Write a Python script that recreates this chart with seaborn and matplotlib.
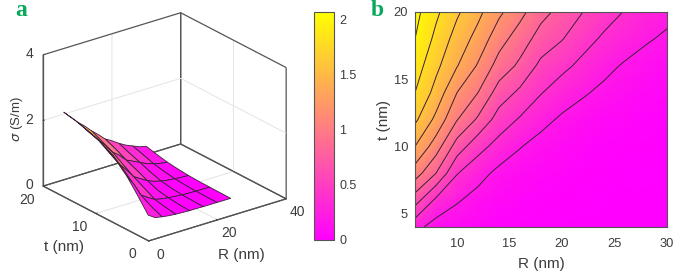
import matplotlib
matplotlib.use("Agg")
import matplotlib.pyplot as plt
from mpl_toolkits.mplot3d import Axes3D  # noqa
import numpy as np
import seaborn as sns

R_nm = [6, 8, 10, 12, 14, 16, 18, 20, 22, 24, 26, 28, 30]
t_nm = [4, 6, 8, 10, 12, 14, 16, 18, 20]
sigma_t04 = [.26, .12, .08, .05, .03, .02, .01, .01, .005, .005, .004, .003, .002]
sigma_t06 = [.69, .36, .22, .13, .08, .05, .03, .02, .015, .01, .008, .006, .005]
sigma_t08 = [1.10, .80, .41, .27, .15, .10, .07, .05, .03, .02, .015, .01, .01]
sigma_t10 = [1.40, 1.10, .71, .47, .33, .21, .13, .09, .06, .04, .03, .02, .015]
sigma_t12 = [1.64, 1.35, 1.01, .77, .51, .38, .26, .17, .12, .08, .06, .04, .03]
sigma_t14 = [1.80, 1.53, 1.20, 1.00, .71, .56, .41, .30, .22, .16, .11, .08, .06]
sigma_t16 = [1.90, 1.65, 1.41, 1.18, .92, .76, .55, .45, .35, .25, .18, .13, .10]
sigma_t18 = [2.00, 1.75, 1.52, 1.33, 1.08, .90, .72, .61, .47, .37, .29, .22, .17]
sigma_t20 = [2.06, 1.84, 1.63, 1.45, 1.24, 1.06, .86, .74, .60, .48, .39, .30, .25]
contour_levels = [.2, .4, .6, .8, 1.0, 1.2, 1.4, 1.6, 1.8, 2.0]
cbar_ticks = [0, .5, 1, 1.5, 2]
cbar_labels = ["0", "0.5", "1", "1.5", "2"]

sns.set_theme(style="white")
plt.rcParams["font.family"] = ["Liberation Sans", "DejaVu Sans"]
plt.rcParams["mathtext.fontset"] = "dejavusans"
TXT = "#3c3c3c"
EDGE = "#555555"
LIGHT = "#e4e4e4"
GREEN = "#0aa85a"
cmap = sns.color_palette("spring", as_cmap=True)
norm = matplotlib.colors.Normalize(0, 2.07)

Z = np.array([sigma_t04, sigma_t06, sigma_t08, sigma_t10, sigma_t12,
              sigma_t14, sigma_t16, sigma_t18, sigma_t20])
RR, TT = np.meshgrid(R_nm, t_nm)

W, H = 685, 272
fig = plt.figure(figsize=(W / 100, H / 100), dpi=100, facecolor="white")

# panel a
S = 272
ax3 = fig.add_axes([(161 - S / 2) / W, (H - 130.5 - S / 2) / H, S / W, S / H], projection="3d", proj_type="ortho")
ax3.view_init(elev=23.5, azim=-127.5)
ax3.set_box_aspect((1, 1, .826), zoom=1.013)
ax3.set_xlim(0, 40, view_margin=0)
ax3.set_ylim(0, 20, view_margin=0)
ax3.set_zlim(0, 4, view_margin=0)
ax3.patch.set_alpha(0)
ax3.plot_surface(RR, TT, Z, rstride=2, cstride=2, facecolors=cmap(norm(Z)), shade=False,
                 edgecolor="#3a2038", linewidth=.6, antialiased=True)
ax3.set_xticks([0, 20, 40])
ax3.set_yticks([0, 10, 20])
ax3.set_zticks([0, 2, 4])
for axis in (ax3.xaxis, ax3.yaxis, ax3.zaxis):
    axis.set_pane_color((1, 1, 1, 0))
    axis.line.set_color(EDGE)
    axis.line.set_linewidth(.9)
    axis._axinfo["grid"].update(color=[EDGE, LIGHT, EDGE], linewidth=[.9, .7, .9])
    axis._axinfo["tick"].update(inward_factor=.0, outward_factor=.12, linewidth={True: .7, False: .5}, color=EDGE)
ax3.tick_params(axis="both", labelsize=10, colors=TXT)
ax3.tick_params(axis="x", pad=3.3)
ax3.tick_params(axis="y", pad=4.1)
ax3.tick_params(axis="z", pad=-2.2)
for tick in ax3.xaxis.get_major_ticks():
    tick.label1.set_va("bottom")
for tick in ax3.yaxis.get_major_ticks():
    tick.label1.set_va("bottom")
for tick in ax3.zaxis.get_major_ticks():
    tick.label1.set_va("center")
ax3.xaxis.set_rotate_label(False)
ax3.yaxis.set_rotate_label(False)
ax3.zaxis.set_rotate_label(False)
ax3.xaxis._axinfo["label"]["va"] = "bottom"
ax3.yaxis._axinfo["label"]["va"] = "bottom"
ax3.set_xlabel("R (nm)", fontsize=11, color=TXT, labelpad=2, rotation=0)
ax3.set_ylabel("t (nm)", fontsize=11, color=TXT, labelpad=3, rotation=0)
ax3.set_zlabel(r"$\sigma$ (S/m)", fontsize=9.5, color=TXT, labelpad=-10, rotation=90)

# colorbar
cax = fig.add_axes([314 / W, (H - 240) / H, 20 / W, 228 / H])
cb = fig.colorbar(matplotlib.cm.ScalarMappable(norm=norm, cmap=cmap), cax=cax)
cb.set_ticks(cbar_ticks, labels=cbar_labels)
cax.tick_params(axis="y", direction="in", length=2.5, width=.6, color=EDGE, labelsize=9, labelcolor=TXT, pad=4, right=True)
cb.outline.set_edgecolor(EDGE)
cb.outline.set_linewidth(.8)

# panel b
ax = fig.add_axes([415 / W, (H - 227) / H, 252 / W, 215 / H])
ax.pcolormesh(RR, TT, Z, cmap=cmap, norm=norm, shading="gouraud", rasterized=True)
ax.contour(RR, TT, Z, levels=contour_levels, colors="#3a2038", linewidths=.7)
ax.set_xlim(6, 30)
ax.set_ylim(4, 20)
ax.set_xticks([10, 15, 20, 25, 30])
ax.set_yticks([5, 10, 15, 20])
ax.tick_params(axis="both", direction="in", length=2.5, width=.6, color=EDGE, labelsize=9.3, labelcolor=TXT, pad=5,
               bottom=True, left=True)
ax.tick_params(axis="x", pad=8)
ax.set_xlabel("R (nm)", fontsize=11, color=TXT, labelpad=5)
ax.set_ylabel("t (nm)", fontsize=11, color=TXT, labelpad=2)
for s in ax.spines.values():
    s.set_edgecolor(EDGE)
    s.set_linewidth(.8)

fig.text(15 / W, 1 - 10 / H, "a", family="Liberation Serif", weight="bold", fontsize=17, color=GREEN, va="center")
fig.text(371 / W, 1 - 11 / H, "b", family="Liberation Serif", weight="bold", fontsize=17, color=GREEN, va="center")
fig.savefig("out.png", dpi=100, facecolor="white")
